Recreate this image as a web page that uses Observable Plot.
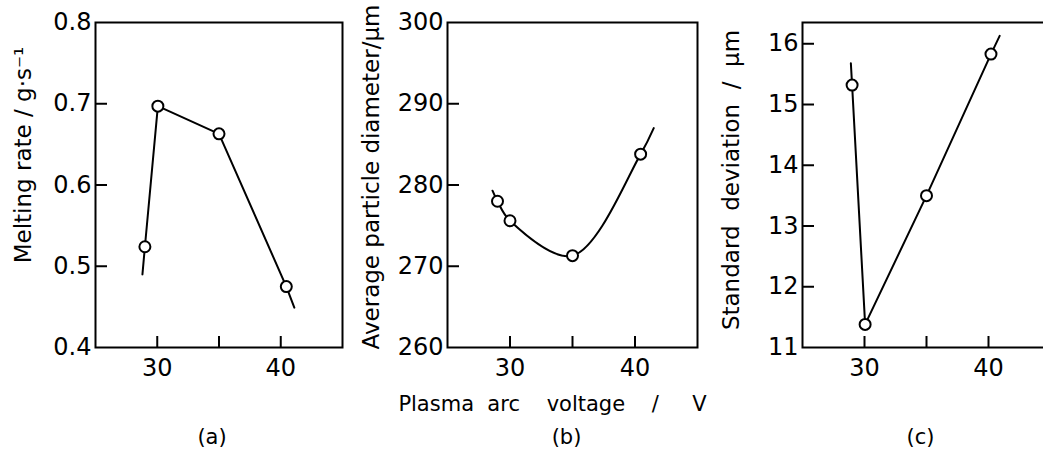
<!DOCTYPE html>
<html><head><meta charset="utf-8">
<script src="https://cdn.jsdelivr.net/npm/d3@7"></script>
<script src="https://cdn.jsdelivr.net/npm/@observablehq/plot@0.6"></script>
<style>
html,body{margin:0;padding:0;background:#fff;overflow:hidden;width:1043px;height:450px}
#wrap{position:relative;width:1043px;height:450px;overflow:hidden}
.panel{position:absolute;top:0}
.panel text{white-space:pre}
</style></head><body><div id="wrap"></div>
<script>
// ---- data ----
const xDomain = [25, 45];
const xTickMarks = [30, 35, 40];
const xTickLabels = [30, 40];

// (a) Melting rate
const voltageA = [29.0, 30.05, 35.0, 40.45];
const meltingRate = [0.524, 0.697, 0.663, 0.475];
const lineAVoltage = [28.8, 29.0, 30.05, 35.0, 40.45, 41.1];
const lineAValue = [0.490, 0.524, 0.697, 0.663, 0.475, 0.449];
const yDomainA = [0.4, 0.8];
const yTickMarksA = [0.5, 0.6, 0.7];
const yTickLabelsA = [0.4, 0.5, 0.6, 0.7, 0.8];

// (b) Average particle diameter
const voltageB = [29.0, 30.0, 35.0, 40.45];
const diameter = [278.0, 275.6, 271.3, 283.8];
const curveBVoltage = [28.6, 29.0, 30.0, 35.0, 40.45, 41.5];
const curveBValue = [279.3, 278.0, 275.6, 271.3, 283.8, 287.0];
const yDomainB = [260, 300];
const yTickMarksB = [270, 280, 290];
const yTickLabelsB = [260, 270, 280, 290, 300];

// (c) Standard deviation
const voltageC = [29.0, 30.05, 35.0, 40.2];
const stdDev = [15.32, 11.38, 13.5, 15.83];
const lineCVoltage = [28.9, 29.0, 30.05, 35.0, 40.2, 40.9];
const lineCValue = [15.68, 15.32, 11.38, 13.5, 15.83, 16.13];
const yDomainC = [11, 16.35];
const yTickMarksC = [12, 13, 14, 15, 16];
const yTickLabelsC = [11, 12, 13, 14, 15, 16];

const yLabels = ["Melting rate / g·s⁻¹", "Average particle diameter/μm", "Standard  deviation  /  μm"];
const tags = ["(a)", "(b)", "(c)"];
const xLabel = "Plasma  arc    voltage    /     V";

// ---- drawing ----
const H = 450, MT = 22, MB = 103;
const zip = (xs, ys) => xs.map((x, i) => ({x, y: ys[i]}));

function panel(o) {
  const plotW = o.width - o.marginLeft - o.marginRight;
  const plotH = H - MT - MB;
  const marks = [
    Plot.axisY(o.yTickLabels, {tickSize: 0, tickPadding: 4, label: null, fontSize: 24, tickFormat: o.fmt}),
    Plot.axisX(xTickLabels, {tickSize: 0, tickPadding: 11, label: null, fontSize: 24}),
    Plot.tickY(o.yTickMarks, {y: d => d, insetRight: plotW - 12, strokeWidth: 2}),
    Plot.tickX(xTickMarks, {x: d => d, insetTop: plotH - 11, strokeWidth: 2}),
    Plot.frame({strokeWidth: 2}),
    Plot.line(o.line, {x: "x", y: "y", curve: o.curve || "linear", strokeWidth: 2}),
    Plot.dot(o.points, {x: "x", y: "y", r: 5.5, fill: "white", stroke: "black", strokeWidth: 2}),
    Plot.text([o.yLabel], {text: d => d, frameAnchor: "left", textAnchor: "middle", lineAnchor: "middle", rotate: -90, dx: o.ldx, dy: o.ldy, fontSize: 23}),
    Plot.text([o.tag], {text: d => d, frameAnchor: "bottom", textAnchor: "middle", lineAnchor: "middle", dx: o.tdx, dy: 90, fontSize: 21})
  ];
  if (o.extra) marks.push(...o.extra);
  const svg = Plot.plot({
    width: o.width, height: H,
    marginLeft: o.marginLeft, marginRight: o.marginRight, marginTop: MT, marginBottom: MB,
    style: {fontFamily: "'DejaVu Sans', sans-serif", fontSize: "24px", color: "#000", background: "transparent", overflow: "visible"},
    x: {domain: xDomain},
    y: {domain: o.yDomain},
    marks
  });
  svg.classList.add("panel");
  svg.style.left = o.left + "px";
  document.getElementById("wrap").appendChild(svg);
}

panel({left: 0, width: 350, marginLeft: 95, marginRight: 8,
  yDomain: yDomainA, yTickMarks: yTickMarksA, yTickLabels: yTickLabelsA, fmt: d3.format(".1f"),
  points: zip(voltageA, meltingRate), line: zip(lineAVoltage, lineAValue),
  yLabel: yLabels[0], ldx: -72, ldy: -30, tag: tags[0], tdx: -7});

panel({left: 350, width: 350, marginLeft: 97, marginRight: 3,
  yDomain: yDomainB, yTickMarks: yTickMarksB, yTickLabels: yTickLabelsB, fmt: d3.format("d"),
  points: zip(voltageB, diameter), line: zip(curveBVoltage, curveBValue), curve: "catmull-rom",
  yLabel: yLabels[1], ldx: -76, ldy: -8, tag: tags[1], tdx: -6,
  extra: [Plot.text([xLabel], {text: d => d, frameAnchor: "bottom", textAnchor: "middle", lineAnchor: "middle", dx: -20, dy: 57, fontSize: 21})]});

panel({left: 700, width: 352, marginLeft: 102, marginRight: 2,
  yDomain: yDomainC, yTickMarks: yTickMarksC, yTickLabels: yTickLabelsC, fmt: d3.format("d"),
  points: zip(voltageC, stdDev), line: zip(lineCVoltage, lineCValue),
  yLabel: yLabels[2], ldx: -71, ldy: -5, tag: tags[2], tdx: -6});
</script></body></html>
